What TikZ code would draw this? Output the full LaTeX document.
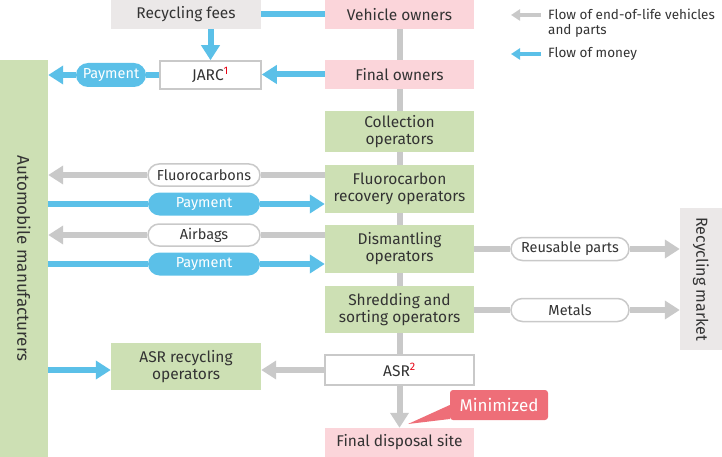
\documentclass[tikz,border=0pt]{standalone}
\usepackage{fontspec}
\usepackage{graphicx}
\setmainfont{Fira Sans}
\usetikzlibrary{arrows.meta, positioning, shapes.misc}

\definecolor{ownpink}{HTML}{FBD5DA}
\definecolor{opgreen}{HTML}{CDE0B4}
\definecolor{feegray}{HTML}{EBE8E8}
\definecolor{moneyblue}{HTML}{5BC0E8}
\definecolor{flowgray}{HTML}{C9C9C9}
\definecolor{txtgray}{HTML}{333333}
\definecolor{supred}{HTML}{E60012}
\definecolor{minred}{HTML}{EE6E78}

\tikzset{
  box/.style={minimum width=149pt, minimum height=29pt, inner sep=0pt,
    align=center, text=txtgray, font=\fontsize{15.5}{17}\selectfont},
  ownerbox/.style={box, fill=ownpink},
  operbox/.style={box, fill=opgreen},
  feebox/.style={box, fill=feegray},
  framebox/.style={box, fill=white, draw=flowgray, line width=1.5pt},
  pill/.style={rounded rectangle, minimum width=112pt, minimum height=22pt,
    inner sep=0pt, font=\fontsize{14.5}{16}\selectfont},
  graypill/.style={pill, fill=white, draw=flowgray, line width=1.5pt, text=txtgray},
  bluepill/.style={pill, fill=moneyblue, text=white},
  goods/.style={draw=flowgray, line width=6pt},
  money/.style={draw=moneyblue, line width=6pt},
  tip/.style={-{Triangle[width=18pt,length=15pt]}},
  legtip/.style={-{Triangle[width=11pt,length=9pt]}, line width=4pt},
}

\begin{document}
\begin{tikzpicture}[x=1pt, y=-1pt]
  \useasboundingbox (0,0) rectangle (722,457);

  % main column
  \node[ownerbox] (vown) at (399.5,14.5) {Vehicle owners};
  \node[ownerbox] (fown) at (399.5,74.5) {Final owners};
  \node[operbox, minimum height=41pt] (coll) at (399.5,131.5) {Collection\\operators};
  \node[operbox, minimum height=48pt] (fluoro) at (399.5,189) {Fluorocarbon\\recovery operators};
  \node[operbox, minimum height=48pt] (dism) at (399.5,249) {Dismantling\\operators};
  \node[operbox, minimum height=47pt] (shred) at (399.5,309.5) {Shredding and\\sorting operators};
  \node[framebox, minimum height=30pt] (asr) at (399.5,370) {ASR\textsuperscript{\color{supred}2}};
  \node[ownerbox] (final) at (399.5,442.5) {Final disposal site};

  % left side
  \node[feebox, minimum width=150pt] (fees) at (186,14.5) {Recycling fees};
  \node[framebox, minimum width=101pt, minimum height=28pt] (jarc) at (210.5,75) {JARC\textsuperscript{\color{supred}1}};
  \node[operbox, minimum width=150pt, minimum height=47pt] (asrop) at (186,366.5) {ASR recycling\\operators};
  \node[operbox, minimum width=48pt, minimum height=397pt, font=\fontsize{17}{19}\selectfont] (manuf) at (24,258.5)
    {\rotatebox{-90}{Automobile manufacturers}};

  % right side
  \node[feebox, minimum width=42pt, minimum height=142pt, font=\fontsize{16}{18}\selectfont] (market) at (701,279)
    {\rotatebox{-90}{Recycling market}};

  % labels on the arrows
  \node[bluepill, minimum width=70pt, minimum height=24pt] (pay0) at (111,75) {Payment};
  \node[graypill] (fcarb) at (204,175) {Fluorocarbons};
  \node[bluepill, minimum height=23pt] (pay1) at (204,204) {Payment};
  \node[graypill] (airb) at (204,235) {Airbags};
  \node[bluepill, minimum height=23pt] (pay2) at (204,264) {Payment};
  \node[graypill, minimum width=118pt, minimum height=23pt] (reuse) at (570,249) {Reusable parts};
  \node[graypill, minimum width=118pt, minimum height=23pt] (metal) at (570,310) {Metals};

  % flow of vehicles
  \draw[goods] (vown) -- (fown);
  \draw[goods] (fown) -- (coll);
  \draw[goods] (coll) -- (fluoro);
  \draw[goods] (fluoro) -- (dism);
  \draw[goods] (dism) -- (shred);
  \draw[goods] (shred) -- (asr);
  \draw[goods, tip] (asr) -- (final.north);
  \draw[goods] (fluoro.west |- fcarb) -- (fcarb.east);
  \draw[goods, tip] (fcarb.west) -- (manuf.east |- fcarb);
  \draw[goods] (dism.west |- airb) -- (airb.east);
  \draw[goods, tip] (airb.west) -- (manuf.east |- airb);
  \draw[goods] (dism.east |- reuse) -- (reuse.west);
  \draw[goods, tip] (reuse.east) -- (market.west |- reuse);
  \draw[goods] (shred.east |- metal) -- (metal.west);
  \draw[goods, tip] (metal.east) -- (market.west |- metal);
  \draw[goods, tip] (asr.west) -- (asrop.east |- asr);

  % flow of money
  \draw[money] (vown.west) -- (fees.east |- vown);
  \draw[money, tip] (fees.south -| jarc) -- (jarc.north);
  \draw[money, tip] (fown.west) -- (jarc.east |- fown);
  \draw[money] (jarc.west) -- (pay0.east);
  \draw[money, tip] (pay0.west) -- (manuf.east |- pay0);
  \draw[money] (manuf.east |- pay1) -- (pay1.west);
  \draw[money, tip] (pay1.east) -- (fluoro.west |- pay1);
  \draw[money] (manuf.east |- pay2) -- (pay2.west);
  \draw[money, tip] (pay2.east) -- (dism.west |- pay2);
  \draw[money, tip] (manuf.east |- asr) -- (asrop.west |- asr);

  % callout
  \node[fill=minred, rounded corners=3pt, minimum width=98pt, minimum height=30pt,
    inner sep=0pt, text=white, font=\fontsize{17}{19}\selectfont] (minim) at (499,405) {Minimized};
  \fill[minred] (minim.west |- 0,405) -- (408,424) -- (minim.west |- 0,419) -- cycle;

  % legend
  \coordinate (lg1s) at (541,15);
  \coordinate (lg1e) at (511,15);
  \coordinate (lg2s) at (541,54);
  \coordinate (lg2e) at (511,54);
  \draw[goods, legtip] (lg1s) -- (lg1e);
  \draw[money, legtip] (lg2s) -- (lg2e);
  \node[anchor=west, align=left, text=txtgray, inner sep=0pt,
    font=\fontsize{13.5}{15}\selectfont] (leg1) at (548,23) {Flow of end-of-life vehicles\\and parts};
  \node[anchor=west, text=txtgray, inner sep=0pt,
    font=\fontsize{13.5}{15}\selectfont] (leg2) at (548,54) {Flow of money};
\end{tikzpicture}
\end{document}
